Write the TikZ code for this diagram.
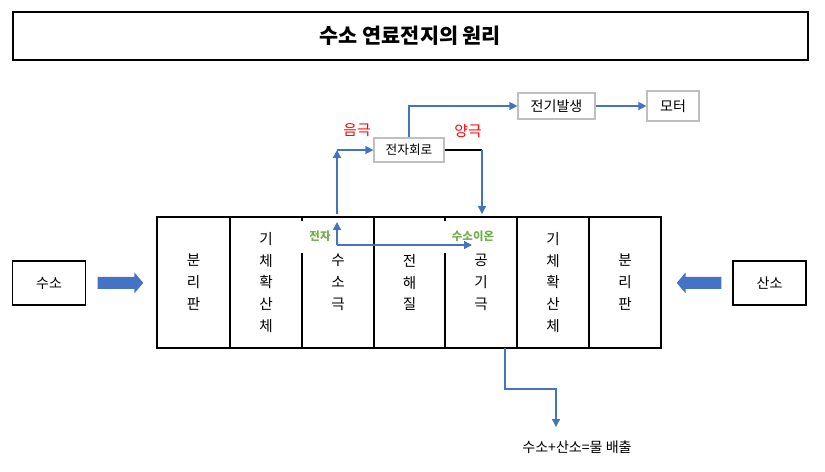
\documentclass[tikz,border=0pt]{standalone}
\usepackage{fontspec}
\setmainfont{Noto Sans CJK KR}
\usetikzlibrary{arrows.meta}

\definecolor{lineblue}{HTML}{4472C4}
\definecolor{labgreen}{HTML}{70AD47}
\definecolor{boxgray}{HTML}{BFBFBF}

\begin{document}
\begin{tikzpicture}[x=0.02cm, y=-0.02cm, >={Triangle[length=4.5pt, width=4.5pt]},
  font=\fontsize{8}{10}\selectfont,
  b/.style={draw, line width=0.7pt, align=center, inner sep=0pt},
  g/.style={draw=boxgray, line width=0.7pt, align=center, inner sep=0pt},
  cell/.style={align=center, inner sep=0pt, font=\fontsize{8.3}{12.5}\selectfont},
  lab/.style={font=\fontsize{6.5}{8}\selectfont\bfseries, text=labgreen},
  pole/.style={font=\fontsize{8.4}{10}\selectfont, text=red},
  flow/.style={->, lineblue, line width=0.8pt},
  fat/.style={lineblue, line width=6.8pt, -{Triangle[length=5pt, width=11.5pt]}}]
\useasboundingbox (0,0) rectangle (825,471);
\node[b, line width=1.4pt, minimum width=15.9cm, minimum height=0.96cm,
  font=\fontsize{11.8}{13}\selectfont\bfseries] (title) at (410.5,36) {수소 연료전지의 원리};
\node[b, minimum width=1.46cm, minimum height=0.88cm] (h2) at (49,283) {수소};
\node[b, minimum width=1.46cm, minimum height=0.88cm] (o2) at (769.5,283) {산소};
% fuel cell stack
\node[draw, line width=0.9pt, minimum width=10.08cm, minimum height=2.62cm] (stack) at (409,282.5) {};
\foreach \x in {230,374,517,589} \draw[line width=0.9pt] (\x,217) -- (\x,348);
\foreach \x in {302,445} \draw[line width=0.9pt] (\x,217) -- (\x,221) (\x,253) -- (\x,348);
\node[cell] (sep1) at (193.5,282.5) {분\\리\\판};
\node[cell] (gdl1) at (266,282.5) {기\\체\\확\\산\\체};
\node[cell] (anode) at (338,282.5) {수\\소\\극};
\node[cell] (elec) at (409.5,282.5) {전\\해\\질};
\node[cell] (cath) at (481,282.5) {공\\기\\극};
\node[cell] (gdl2) at (553,282.5) {기\\체\\확\\산\\체};
\node[cell] (sep2) at (625,282.5) {분\\리\\판};
\draw[fat, shorten <=0.23cm, shorten >=0.26cm] (h2) -- (stack);
\draw[fat, shorten <=0.22cm, shorten >=0.3cm] (o2) -- (stack);
% external circuit
\node[g, minimum width=1.4cm, minimum height=0.48cm, font=\fontsize{7.2}{9}\selectfont] (circ) at (409,150) {전자회로};
\node[g, minimum width=1.54cm, minimum height=0.52cm] (gen) at (556.5,106) {전기발생};
\node[g, minimum width=1.04cm, minimum height=0.6cm] (motor) at (673,106) {모터};
\node[pole] (neg) at (357,130) {음극};
\node[pole] (posl) at (468,131) {양극};
\coordinate (ebot) at (337,214);
\coordinate (ecorner) at (337,150);
\coordinate (pcorner) at (482,150);
\coordinate (ptip) at (482,214);
\draw[flow] (ebot) -- (ecorner);
\draw[flow] (ecorner) -- (circ.west);
\draw[flow] (circ.north) |- (gen.west);
\draw[flow] (gen.east) -- (motor.west);
\draw[line width=0.7pt] (circ.east) -- (pcorner);
\draw[flow] (pcorner) -- (ptip);
% inside the cell
\coordinate (eorig) at (337,245);
\coordinate (eup) at (337,222);
\coordinate (hion) at (472,245);
\node[lab] (elab) at (320,236) {전자};
\node[lab] (hlab) at (473,236) {수소이온};
\draw[flow] (eorig) -- (eup);
\draw[flow] (eorig) -- (hion);
% water out
\coordinate (wout) at (505,348);
\coordinate (wbend) at (556,389);
\coordinate (wtip) at (556,427);
\node (water) at (577,447) {수소+산소=물 배출};
\draw[flow] (wout) |- (wbend) -- (wtip);
\end{tikzpicture}
\end{document}
